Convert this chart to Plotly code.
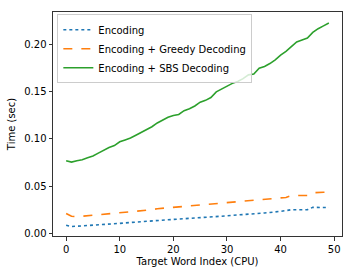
import plotly.graph_objects as go

x_idx = list(range(50))

encoding = [0.0085, 0.0072, 0.0075, 0.0078, 0.008, 0.0085, 0.009, 0.0095, 0.0098, 0.010,
            0.0105, 0.011, 0.0115, 0.012, 0.0123, 0.0127, 0.013, 0.0135, 0.014, 0.0143,
            0.0147, 0.015, 0.0153, 0.0157, 0.016, 0.0163, 0.0167, 0.017, 0.0175, 0.018,
            0.0185, 0.019, 0.0193, 0.0197, 0.020, 0.0205, 0.021, 0.0215, 0.022, 0.0225,
            0.023, 0.024, 0.025, 0.025, 0.025, 0.025, 0.0275, 0.0275, 0.0275, 0.0272]

greedy = [0.021, 0.018, 0.0175, 0.018, 0.0185, 0.019, 0.0195, 0.020, 0.0205, 0.021,
          0.022, 0.0225, 0.023, 0.0235, 0.024, 0.0245, 0.025, 0.026, 0.0265, 0.027,
          0.027, 0.0275, 0.028, 0.0285, 0.029, 0.0295, 0.030, 0.0305, 0.031, 0.0315,
          0.032, 0.0325, 0.033, 0.0335, 0.034, 0.0345, 0.035, 0.0355, 0.036, 0.0365,
          0.037, 0.038, 0.040, 0.040, 0.040, 0.040, 0.043, 0.0435, 0.0435, 0.0435]

sbs = [0.077, 0.0755, 0.077, 0.078, 0.080, 0.082, 0.085, 0.088, 0.091, 0.093,
       0.097, 0.099, 0.101, 0.104, 0.107, 0.110, 0.113, 0.117, 0.120, 0.123,
       0.125, 0.126, 0.130, 0.132, 0.135, 0.139, 0.141, 0.144, 0.150, 0.153,
       0.156, 0.159, 0.161, 0.164, 0.168, 0.169, 0.175, 0.177, 0.180, 0.184,
       0.189, 0.193, 0.198, 0.203, 0.205, 0.207, 0.213, 0.217, 0.220, 0.223]

names = ["Encoding", "Encoding + Greedy Decoding", "Encoding + SBS Decoding"]
x_ticks = [0, 10, 20, 30, 40, 50]
y_ticks = [0.00, 0.05, 0.10, 0.15, 0.20]
y_tick_labels = ["0.00", "0.05", "0.10", "0.15", "0.20"]

fig = go.Figure()
fig.add_trace(go.Scatter(x=x_idx, y=encoding, mode="lines", name=names[0],
                         line=dict(color="#1f77b4", width=1.6, dash="dot")))
fig.add_trace(go.Scatter(x=x_idx, y=greedy, mode="lines", name=names[1],
                         line=dict(color="#ff7f0e", width=1.6, dash="dash")))
fig.add_trace(go.Scatter(x=x_idx, y=sbs, mode="lines", name=names[2],
                         line=dict(color="#2ca02c", width=1.6)))

axis_common = dict(showgrid=False, zeroline=False, showline=True, linecolor="#333333",
                   linewidth=1, mirror=True, ticks="outside", ticklen=3.5,
                   tickcolor="#333333", tickfont=dict(size=10, color="black"))

fig.update_layout(
    width=354, height=277,
    margin=dict(l=52, r=11, t=11, b=40),
    plot_bgcolor="white", paper_bgcolor="white",
    font=dict(family="DejaVu Sans", size=10, color="black"),
    xaxis=dict(range=[-2.45, 51.45], tickvals=x_ticks,
               title=dict(text="Target Word Index (CPU)", standoff=4, font=dict(size=10)),
               **axis_common),
    yaxis=dict(range=[-0.0029, 0.2347], tickvals=y_ticks, ticktext=y_tick_labels,
               title=dict(text="Time (sec)", standoff=6, font=dict(size=10)),
               **axis_common),
    legend=dict(x=0.015, y=0.99, xanchor="left", yanchor="top",
                bgcolor="rgba(255,255,255,0.8)", bordercolor="#cccccc", borderwidth=1,
                font=dict(size=10), tracegroupgap=0, itemwidth=30),
    showlegend=True,
)

fig.write_html("out.html", config={"displayModeBar": False},
               post_script="document.body.style.margin='0';")
